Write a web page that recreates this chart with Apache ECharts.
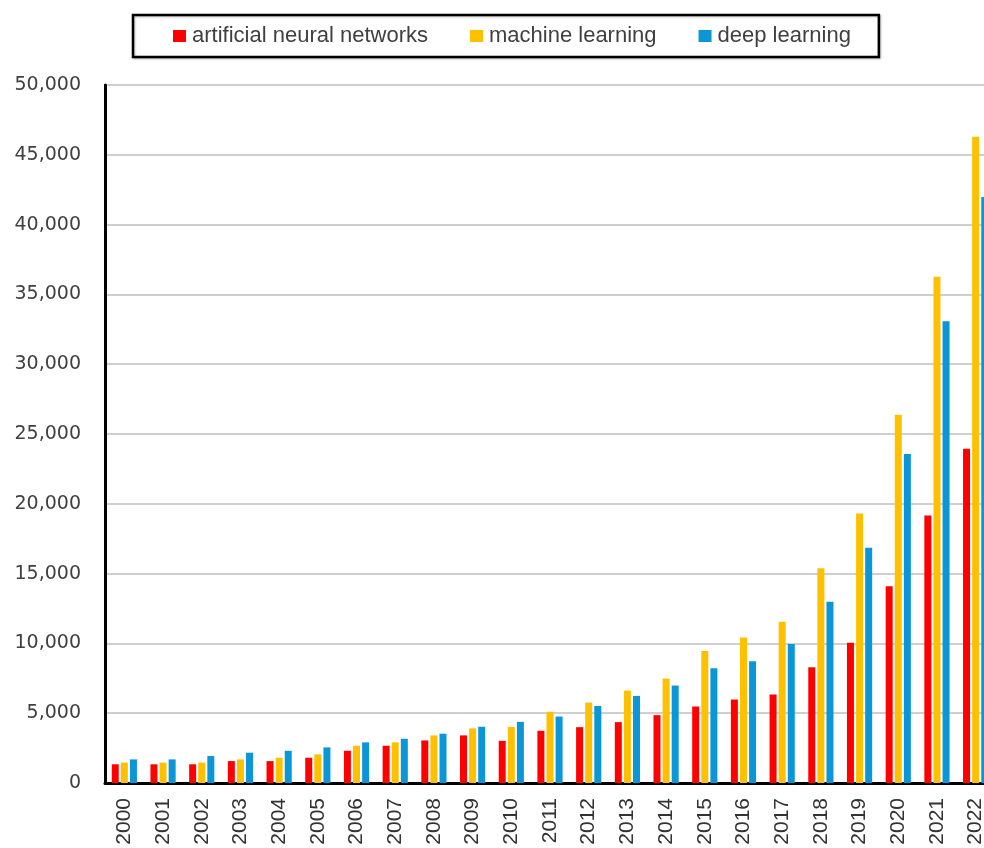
<!DOCTYPE html>
<html>
<head>
<meta charset="utf-8">
<script src="https://cdn.jsdelivr.net/npm/echarts@6/dist/echarts.min.js"></script>
<style>
  html, body { margin: 0; padding: 0; background: #fff; overflow: hidden; }
  /* the plot runs slightly past the right edge of the window */
  #chart { width: 1000px; height: 848px; }
</style>
</head>
<body>
<div id="chart"></div>
<script>
// Publication counts per year for three search terms
const years = ['2000','2001','2002','2003','2004','2005','2006','2007','2008','2009','2010',
               '2011','2012','2013','2014','2015','2016','2017','2018','2019','2020','2021','2022'];

const annCounts = [1340, 1340, 1340, 1570, 1570, 1810, 2310, 2670, 3050, 3410, 3020,
                   3740, 4000, 4360, 4860, 5480, 5980, 6340, 8290, 10050, 14100, 19160, 23950];

const mlCounts  = [1460, 1460, 1460, 1690, 1810, 2050, 2670, 2910, 3410, 3910, 4020,
                   5100, 5760, 6620, 7480, 9460, 10430, 11550, 15380, 19310, 26380, 36260, 46290];

const dlCounts  = [1690, 1690, 1930, 2170, 2310, 2550, 2910, 3170, 3530, 4030, 4380,
                   4760, 5520, 6240, 6980, 8220, 8720, 9950, 12980, 16860, 23570, 33070, 41980];

const seriesNames = ['artificial neural networks', 'machine learning', 'deep learning'];
const seriesColors = ['#ff0000', '#ffc000', '#0b96d8'];

const chart = echarts.init(document.getElementById('chart'), null, { renderer: 'canvas' });

const barStyle = (i) => ({
  name: seriesNames[i],
  type: 'bar',
  barWidth: 7,
  barGap: '30%',
  itemStyle: { color: seriesColors[i] },
  emphasis: { disabled: true }
});

chart.setOption({
  backgroundColor: '#ffffff',
  animation: false,
  color: seriesColors,
  legend: {
    left: 133,
    top: 15,
    padding: [10, 28, 10, 40],
    itemWidth: 13,
    itemHeight: 12,
    itemGap: 42,
    icon: 'rect',
    borderColor: '#000',
    borderWidth: 2.5,
    shadowColor: 'rgba(0,0,0,0.25)',
    shadowBlur: 2,
    shadowOffsetX: 1,
    shadowOffsetY: 1,
    backgroundColor: '#fff',
    textStyle: { fontFamily: 'Liberation Sans', fontSize: 22, color: '#404040', padding: [0, 0, 0, 1] },
    data: seriesNames
  },
  grid: {
    left: 105,
    top: 85,
    width: 890,
    height: 698,
    show: true,
    borderColor: '#000',
    borderWidth: 2,
    containLabel: false
  },
  xAxis: {
    type: 'category',
    data: years,
    boundaryGap: true,
    axisLine: { show: true, lineStyle: { color: '#000', width: 3 } },
    axisTick: { show: false },
    axisLabel: {
      rotate: 90,
      margin: 15,
      fontFamily: 'Liberation Sans',
      fontSize: 21,
      color: '#333'
    },
    splitLine: { show: false }
  },
  yAxis: {
    type: 'value',
    min: 0,
    max: 50000,
    interval: 5000,
    axisLine: { show: true, lineStyle: { color: '#000', width: 3 } },
    axisTick: { show: false },
    axisLabel: {
      margin: 24,
      fontFamily: 'DejaVu Sans',
      fontSize: 19,
      color: '#404040',
      formatter: (v) => v.toLocaleString('en-US')
    },
    splitLine: { show: true, lineStyle: { color: '#cfcfcf', width: 2 } }
  },
  series: [
    Object.assign(barStyle(0), { data: annCounts }),
    Object.assign(barStyle(1), { data: mlCounts }),
    Object.assign(barStyle(2), { data: dlCounts })
  ]
});
</script>
</body>
</html>
